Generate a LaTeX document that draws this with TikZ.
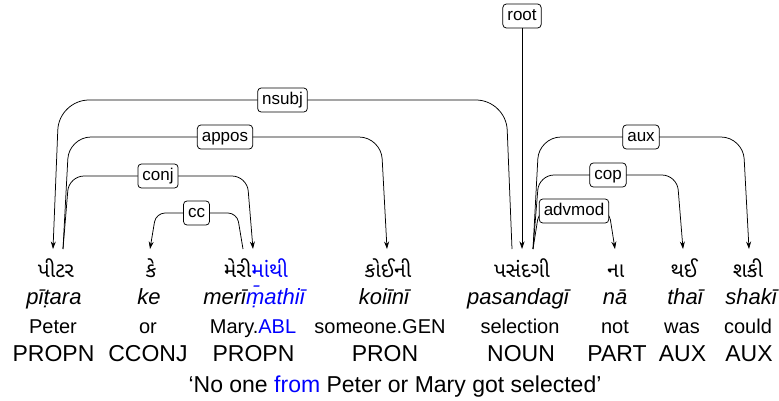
\documentclass[tikz,border=0pt]{standalone}
\usepackage{fontspec}
\setmainfont{Liberation Sans}
\newfontfamily\guj[Script=Gujarati]{Noto Sans Gujarati UI}
\usetikzlibrary{arrows.meta,calc}
\newcommand\dsl{6}
\newcommand\darc[6]{%
  \draw[dep,rounded corners=#4,#6] (#1) -- ($(#1 |- #3)+(\dsl,0)$)
    -- node[lab]{#5} ($(#2 |- #3)+(-\dsl,0)$) -- (#2);}
\begin{document}
\begin{tikzpicture}[x=1pt,y=-1pt,
  gword/.style={anchor=base, inner sep=0pt, font=\guj\fontsize{21}{25}\selectfont},
  translit/.style={anchor=base, inner sep=0pt, font=\fontsize{22}{26}\selectfont\itshape},
  gloss/.style={anchor=base, inner sep=0pt, font=\fontsize{20}{24}\selectfont},
  postag/.style={anchor=base, inner sep=0pt, font=\fontsize{23}{27}\selectfont},
  lab/.style={draw, fill=white, rounded corners=3.5pt, inner xsep=4.5pt, inner ysep=4pt,
    text height=12.5pt, text depth=3.5pt, line width=0.75pt, font=\fontsize{17}{20}\selectfont},
  dep/.style={draw, line width=0.75pt},
  toR/.style={-{Stealth[length=7.5pt,width=5pt]}},
  toL/.style={{Stealth[length=7.5pt,width=5pt]}-},
]
\useasboundingbox (0,0) rectangle (779,400);

% Gujarati words
\node[gword] (w1) at (56,277) {પીટર};
\node[gword] (w2) at (151,277) {કે};
\node[gword] (w3) at (256,277) {મેરી\textcolor{blue}{માંથી}};
\node[gword] (w4) at (388,277) {કોઈની};
\node[gword] (w5) at (522,277) {પસંદગી};
\node[gword] (w6) at (616,277) {ના};
\node[gword] (w7) at (684,277) {થઈ};
\node[gword] (w8) at (748,277) {શકી};

% transliterations
\node[translit] (t1) at (54,304) {pīṭara};
\node[translit] (t2) at (149,304) {ke};
\node[translit] (t3) at (254,304) {merī\textcolor{blue}{ṃ̄athiī}};
\node[translit] (t4) at (384,304) {koiīnī};
\node[translit] (t5) at (518,304) {pasandagī};
\node[translit] (t6) at (615,304) {nā};
\node[translit] (t7) at (685,304) {thaī};
\node[translit] (t8) at (751,304) {shakī};

% glosses
\node[gloss] (g1) at (53,333) {Peter};
\node[gloss] (g2) at (148,333) {or};
\node[gloss] (g3) at (253,333) {Mary.\textcolor{blue}{ABL}};
\node[gloss] (g4) at (380,333) {someone.GEN};
\node[gloss] (g5) at (520,333) {selection};
\node[gloss] (g6) at (615,333) {not};
\node[gloss] (g7) at (682,333) {was};
\node[gloss] (g8) at (748,333) {could};

% POS
\node[postag] (p1) at (53.5,361) {PROPN};
\node[postag] (p2) at (148,361) {CCONJ};
\node[postag] (p3) at (253.5,361) {PROPN};
\node[postag] (p4) at (385,361) {PRON};
\node[postag] (p5) at (521,361) {NOUN};
\node[postag] (p6) at (617,361) {PART};
\node[postag] (p7) at (682.5,361) {AUX};
\node[postag] (p8) at (749,361) {AUX};

% translation
\node[postag] (tr) at (395,392) {‘No one \textcolor{blue}{from} Peter or Mary got selected’};

% edge end points
\coordinate (c1in) at (53,249);
\coordinate (c1out) at (63,249);
\coordinate (c2) at (150,249);
\coordinate (c3out) at (243,249);
\coordinate (c3in) at (253,249);
\coordinate (c4) at (387,249);
\coordinate (c5n) at (512,249);
\coordinate (c5root) at (522,249);
\coordinate (c5out) at (533,249);
\coordinate (c6) at (615,249);
\coordinate (c7) at (683,249);
\coordinate (c8) at (749,249);

% levels
\coordinate (Lnsubj) at (0,100);
\coordinate (Lappos) at (0,137);
\coordinate (Lconj) at (0,176);
\coordinate (Lcc) at (0,213);
\coordinate (Laux) at (0,137);
\coordinate (Lcop) at (0,175);
\coordinate (Ladv) at (0,211);

\darc{c1in}{c5n}{Lnsubj}{30pt}{nsubj}{toL}
\darc{c1out}{c4}{Lappos}{22pt}{appos}{toR}
\darc{c1out}{c3in}{Lconj}{15pt}{conj}{toR}
\darc{c2}{c3out}{Lcc}{9pt}{cc}{toL}
\darc{c5out}{c8}{Laux}{22pt}{aux}{toR}
\darc{c5out}{c7}{Lcop}{15pt}{cop}{toR}
\darc{c5out}{c6}{Ladv}{9pt}{advmod}{toR}

\node[lab] (root) at (522,16) {root};
\draw[dep,toR] (root) -- (c5root);
\end{tikzpicture}
\end{document}
